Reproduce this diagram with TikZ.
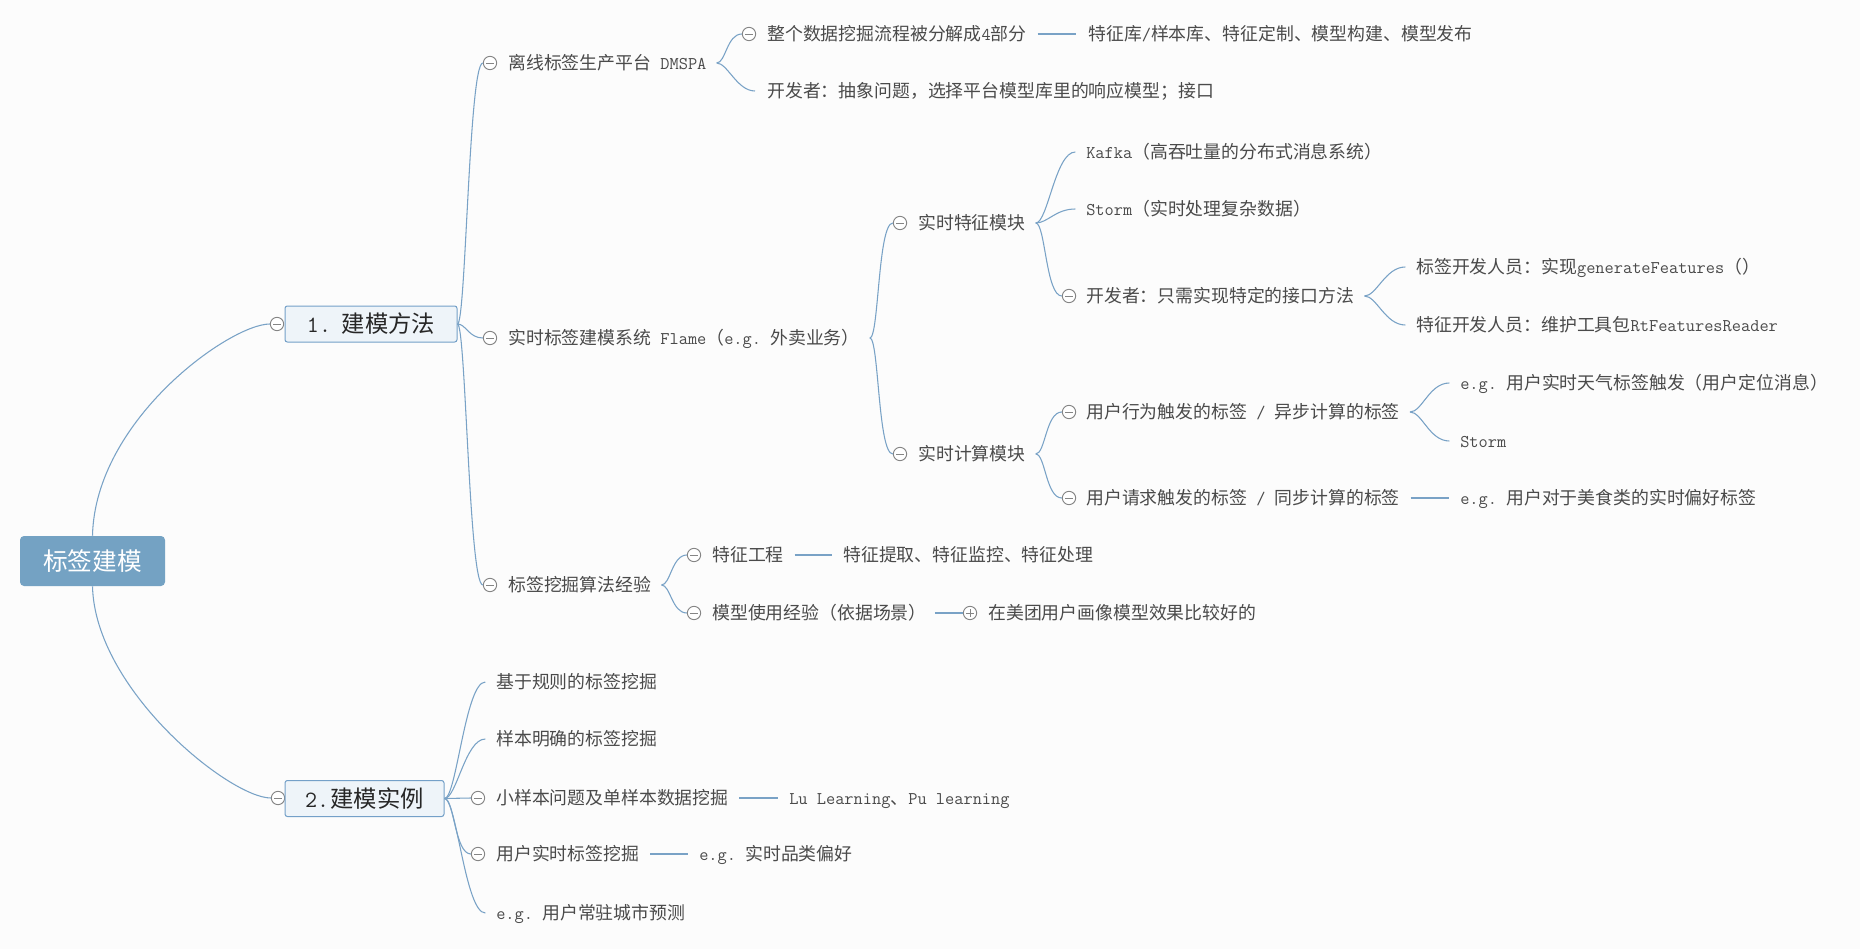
\documentclass[tikz,border=0pt]{standalone}
\usepackage{fontspec}
\setmainfont{Noto Sans CJK SC}
\definecolor{bgc}{HTML}{FCFCFC}
\definecolor{linec}{HTML}{79A2C6}
\definecolor{collgray}{HTML}{858585}
\definecolor{boxborder}{HTML}{74A0C8}
\definecolor{boxfill}{HTML}{EEF4F9}
\definecolor{rootblue}{HTML}{74A2C3}
\definecolor{txtc}{HTML}{4A4A4A}
\definecolor{topc}{HTML}{262626}
\newcommand{\lmn}[1]{{\ttfamily #1}}
\begin{document}
\begin{tikzpicture}[x=0.75pt,y=-0.75pt,
  con/.style={draw=linec, line width=0.8pt},
  brace/.style={to path={.. controls +({0.6*#1},0) and +(-#1,0) .. (\tikztotarget)}},
  brace/.default=16,
  txt/.style={anchor=west, inner sep=0pt, text=txtc, text height=11.5pt, text depth=2pt,
    font=\fontsize{13.4pt}{16pt}\selectfont},
  coll/.style={circle, draw=collgray, fill=white, line width=0.7pt, minimum size=10pt, inner sep=0pt,
    path picture={\draw[collgray, line width=0.7pt]
      ([xshift=-2.8pt]path picture bounding box.center) -- ([xshift=2.8pt]path picture bounding box.center);}},
  expd/.style={circle, draw=collgray, fill=white, line width=0.7pt, minimum size=10pt, inner sep=0pt,
    path picture={\draw[collgray, line width=0.7pt]
      ([xshift=-2.8pt]path picture bounding box.center) -- ([xshift=2.8pt]path picture bounding box.center)
      ([yshift=-2.8pt]path picture bounding box.center) -- ([yshift=2.8pt]path picture bounding box.center);}},
  topic/.style={draw=boxborder, fill=boxfill, line width=0.75pt, rounded corners=1.8pt,
    minimum height=27pt, inner sep=0pt, text=topc, font=\fontsize{17.5pt}{20pt}\selectfont},
  rootbox/.style={fill=rootblue, rounded corners=3pt, minimum width=108.75pt, minimum height=37.5pt,
    inner sep=0pt, text=white, font=\fontsize{18.5pt}{21pt}\selectfont}
]
\path[use as bounding box, fill=bgc] (0,0) rectangle (1860,949);

% root and main topics
\node[rootbox] (root) at (92.5,561) {标签建模};
\node[coll] (c1) at (277,324) {};
\node[topic, minimum width=129pt] (n1) at (371,324) {\lmn{1.}\hspace{8pt}建模方法};
\node[coll] (c2) at (278,798) {};
\node[topic, minimum width=119.25pt] (n2) at (364.5,798.5) {\lmn{2.}\hspace{1pt}建模实例};

\draw[con] (root.north) .. controls (95,420) and (230,324) .. (c1.west);
\draw[con] (root.south) .. controls (95,690) and (230,798) .. (c2.west);

% level A under 1
\node[coll] (cA1) at (490,63) {};
\node[txt] (A1) at (508,63) {离线标签生产平台\lmn{ DMSPA}};
\node[coll] (cA2) at (490,338) {};
\node[txt] (A2) at (508,338) {实时标签建模系统\lmn{ Flame}（\lmn{e.g.\ }外卖业务）};
\node[coll] (cA3) at (490,585) {};
\node[txt] (A3) at (508,585) {标签挖掘算法经验};

\draw[con] (n1.east) to[brace=14] (cA1.west);
\draw[con] (n1.east) to[brace=14] (cA2.west);
\draw[con] (n1.east) to[brace=14] (cA3.west);

% DMSPA children
\node[coll] (cB1) at (749,34) {};
\node[txt] (B1) at (767,34) {整个数据挖掘流程被分解成\lmn{4}部分};
\node[txt] (B1x) at (1088,34) {特征库\lmn{/}样本库、特征定制、模型构建、模型发布};
\node[txt] (B2) at (767,91) {开发者：抽象问题，选择平台模型库里的响应模型；接口};

\draw[con] ([xshift=7.5pt]A1.east) to[brace=15] (cB1.west);
\draw[con] ([xshift=7.5pt]A1.east) to[brace=18] ([xshift=-9pt]B2.west);
\draw[con] ([xshift=8pt]B1.east) -- ([xshift=-9pt]B1x.west);

% Flame children
\node[coll] (cC1) at (900,223) {};
\node[txt] (C1) at (918,223) {实时特征模块};
\node[coll] (cC2) at (900,454) {};
\node[txt] (C2) at (918,454) {实时计算模块};

\draw[con] ([xshift=7.5pt]A2.east) to[brace=15] (cC1.west);
\draw[con] ([xshift=7.5pt]A2.east) to[brace=15] (cC2.west);

% realtime feature module children
\node[txt] (D1) at (1086,152) {\lmn{Kafka}（高吞吐量的分布式消息系统）};
\node[txt] (D2) at (1086,209) {\lmn{Storm}（实时处理复杂数据）};
\node[coll] (cD3) at (1069,296) {};
\node[txt] (D3) at (1086,296) {开发者：只需实现特定的接口方法};

\draw[con] ([xshift=7.5pt]C1.east) to[brace=20] ([xshift=-8pt]D1.west);
\draw[con] ([xshift=7.5pt]C1.east) to[brace=20] ([xshift=-8pt]D2.west);
\draw[con] ([xshift=7.5pt]C1.east) to[brace=16] (cD3.west);

\node[txt] (E1) at (1416,267) {标签开发人员：实现\lmn{generateFeatures}（）};
\node[txt] (E2) at (1416,325) {特征开发人员：维护工具包\lmn{RtFeaturesReader}};

\draw[con] ([xshift=7.5pt]D3.east) to[brace=20] ([xshift=-8pt]E1.west);
\draw[con] ([xshift=7.5pt]D3.east) to[brace=20] ([xshift=-8pt]E2.west);

% realtime compute module children
\node[coll] (cD4) at (1069,412) {};
\node[txt] (D4) at (1086,412) {用户行为触发的标签\lmn{ / }异步计算的标签};
\node[coll] (cD5) at (1069,498) {};
\node[txt] (D5) at (1086,498) {用户请求触发的标签\lmn{ / }同步计算的标签};

\draw[con] ([xshift=7.5pt]C2.east) to[brace=16] (cD4.west);
\draw[con] ([xshift=7.5pt]C2.east) to[brace=16] (cD5.west);

\node[txt] (E3) at (1460,383) {\lmn{e.g.\ }用户实时天气标签触发（用户定位消息）};
\node[txt] (E4) at (1460,441) {\lmn{Storm}};
\node[txt] (E5) at (1460,498) {\lmn{e.g.\ }用户对于美食类的实时偏好标签};

\draw[con] ([xshift=7.5pt]D4.east) to[brace=20] ([xshift=-8pt]E3.west);
\draw[con] ([xshift=7.5pt]D4.east) to[brace=20] ([xshift=-8pt]E4.west);
\draw[con] ([xshift=8pt]D5.east) -- ([xshift=-8pt]E5.west);

% mining experience children
\node[coll] (cF1) at (694,555) {};
\node[txt] (F1) at (712,555) {特征工程};
\node[txt] (F1x) at (843,555) {特征提取、特征监控、特征处理};
\node[coll] (cF2) at (694,613) {};
\node[txt] (F2) at (712,613) {模型使用经验（依据场景）};
\node[expd] (pF2) at (970,613) {};
\node[txt] (F2x) at (988,613) {在美团用户画像模型效果比较好的};

\draw[con] ([xshift=7.5pt]A3.east) to[brace=15] (cF1.west);
\draw[con] ([xshift=7.5pt]A3.east) to[brace=15] (cF2.west);
\draw[con] ([xshift=8pt]F1.east) -- ([xshift=-8pt]F1x.west);
\draw[con] ([xshift=6pt]F2.east) -- (pF2.west);

% 2. children
\node[txt] (G1) at (496,682) {基于规则的标签挖掘};
\node[txt] (G2) at (496,739) {样本明确的标签挖掘};
\node[coll] (cG3) at (478,798) {};
\node[txt] (G3) at (496,798) {小样本问题及单样本数据挖掘};
\node[txt] (G3x) at (789,798) {\lmn{Lu Learning}、\lmn{Pu learning}};
\node[coll] (cG4) at (478,854) {};
\node[txt] (G4) at (496,854) {用户实时标签挖掘};
\node[txt] (G4x) at (699,854) {\lmn{e.g.\ }实时品类偏好};
\node[txt] (G5) at (496,913) {\lmn{e.g.\ }用户常驻城市预测};

\draw[con] (n2.east) to[brace=20] ([xshift=-8pt]G1.west);
\draw[con] (n2.east) to[brace=20] ([xshift=-8pt]G2.west);
\draw[con] (n2.east) -- (cG3.west);
\draw[con] (n2.east) to[brace=16] (cG4.west);
\draw[con] (n2.east) to[brace=20] ([xshift=-8pt]G5.west);
\draw[con] ([xshift=8pt]G3.east) -- ([xshift=-8pt]G3x.west);
\draw[con] ([xshift=8pt]G4.east) -- ([xshift=-8pt]G4x.west);
\end{tikzpicture}
\end{document}
